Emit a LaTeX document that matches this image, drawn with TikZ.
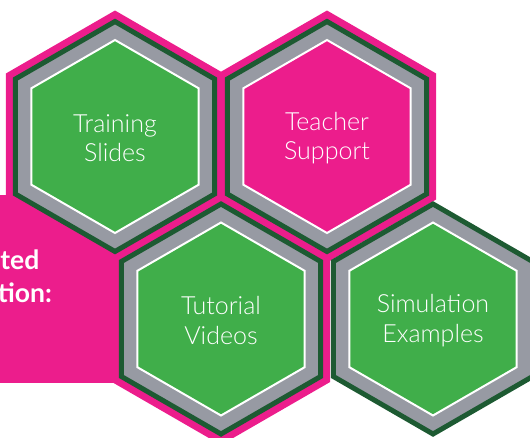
\documentclass[tikz,border=0pt]{standalone}
\usepackage{fontspec}
\setmainfont{Lato}
\newfontfamily\hexFont{Lato Light}
\usetikzlibrary{shapes, positioning}
\definecolor{hexPink}{HTML}{EC1D8C}
\definecolor{hexGreen}{HTML}{40AE4A}
\definecolor{hexDark}{HTML}{1D5A32}
\definecolor{hexGray}{HTML}{979AA3}
\tikzstyle{hexShape}=[regular polygon, regular polygon sides=6, shape border rotate=30, inner sep=0pt, outer sep=0pt]
\tikzstyle{hexBack}=[hexShape, minimum size=252pt, fill=hexPink]
\tikzstyle{hexRing}=[hexShape, minimum size=230pt, fill=hexGray, draw=hexDark, line width=5pt]
\tikzstyle{hexCore}=[hexShape, minimum size=193pt, draw=white, line width=2pt]
\tikzstyle{hexLabel}=[text=white, align=center, yshift=-1.5pt, font=\hexFont\fontsize{25}{29.5}\selectfont]
\tikzstyle{infoBox}=[rectangle, fill=hexPink, anchor=north west, inner sep=0pt, minimum width=150pt, minimum height=188pt]
\tikzstyle{infoText}=[text=white, anchor=base east, inner sep=0pt, font=\fontsize{26.5}{33}\selectfont\bfseries]
\newcommand\nodeHex{}
\def\nodeHex(#1)at(#2)#3#4{%
  \node[hexRing] (#1) at (#2) {};
  \node[hexCore, fill=#3] (#1Core) at (#1) {};
  \node[hexLabel] (#1Text) at (#1) {#4};
}

\begin{document}
\begin{tikzpicture}[x=1pt, y=-1pt]
  \useasboundingbox (0,0) rectangle (530,437);
  \clip (0,0) rectangle (530,437);
  % pink backing
  \node[hexBack] (trainBack) at (115,136.5) {};
  \node[hexBack] (teachBack) at (327,136.5) {};
  \node[hexBack] (tutorBack) at (221,319) {};
  \node[infoBox] (info) at (0,195) {};
  \node[infoText] (infoTop) at (39.5,269) {rted};
  \node[infoText] (infoBottom) at (52,302) {tion:};
  % cells
  \nodeHex(train)at(trainBack){hexGreen}{Training\\Slides};
  \nodeHex(teach)at(teachBack){hexPink}{Teacher\\Support};
  \nodeHex(tutor)at(tutorBack){hexGreen}{Tutorial\\Videos};
  \nodeHex(simul)at(433,319){hexGreen}{Simulation\\Examples};
\end{tikzpicture}
\end{document}
